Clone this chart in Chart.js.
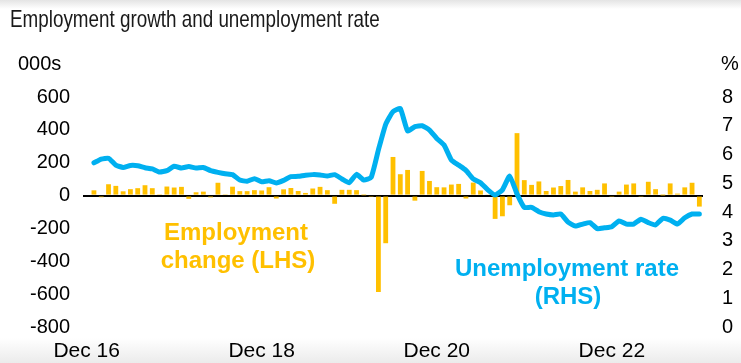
<!DOCTYPE html>
<html>
<head>
<meta charset="utf-8">
<script src="https://cdn.jsdelivr.net/npm/chart.js@4"></script>
<style>
  html, body { margin: 0; padding: 0; }
  body {
    width: 741px;
    height: 363px;
    overflow: hidden;
    background: linear-gradient(to bottom, #e4e4e4 0px, #ffffff 9px, #ffffff 338px, #ebebeb 363px);
  }
</style>
</head>
<body>
<canvas id="chart" width="741" height="363"></canvas>
<script>
const TITLE = "Employment growth and unemployment rate";
const LHS_UNIT = "000s";
const RHS_UNIT = "%";
const LHS_NOTE = ["Employment", "change (LHS)"];
const RHS_NOTE = ["Unemployment rate", "(RHS)"];

const MONTHS = [
  "Dec 16",
  "Jan 17", "Feb 17", "Mar 17", "Apr 17", "May 17", "Jun 17", "Jul 17", "Aug 17", "Sep 17", "Oct 17", "Nov 17", "Dec 17",
  "Jan 18", "Feb 18", "Mar 18", "Apr 18", "May 18", "Jun 18", "Jul 18", "Aug 18", "Sep 18", "Oct 18", "Nov 18", "Dec 18",
  "Jan 19", "Feb 19", "Mar 19", "Apr 19", "May 19", "Jun 19", "Jul 19", "Aug 19", "Sep 19", "Oct 19", "Nov 19", "Dec 19",
  "Jan 20", "Feb 20", "Mar 20", "Apr 20", "May 20", "Jun 20", "Jul 20", "Aug 20", "Sep 20", "Oct 20", "Nov 20", "Dec 20",
  "Jan 21", "Feb 21", "Mar 21", "Apr 21", "May 21", "Jun 21", "Jul 21", "Aug 21", "Sep 21", "Oct 21", "Nov 21", "Dec 21",
  "Jan 22", "Feb 22", "Mar 22", "Apr 22", "May 22", "Jun 22", "Jul 22", "Aug 22", "Sep 22", "Oct 22", "Nov 22", "Dec 22",
  "Jan 23", "Feb 23", "Mar 23", "Apr 23", "May 23", "Jun 23", "Jul 23", "Aug 23", "Sep 23", "Oct 23", "Nov 23", "Dec 23",
];
const TICK_LABELS = ["Dec 16", "Dec 18", "Dec 20", "Dec 22"];

// monthly change in employment, thousands
const EMPLOYMENT_CHANGE = [
  null,
  32, -10, 69, 59, 26, 39, 45, 63, 45, 8, 55, 49,
  53, -20, 20, 24, -11, 78, 8, 54, 27, 27, 33, 31,
  51, -18, 38, 46, 28, 16, 43, 53, 33, -50, 35, 35,
  33, 2, -4, -587, -290, 235, 130, 156, -31, 150, 89, 51,
  50, 67, 71, -18, 79, 31, 5, -142, -126, -59, 380, 94,
  65, 86, 28, 49, 58, 95, 24, 50, 28, 35, 74, -8,
  24, 67, 74, -8, 84, 39, 1, 74, 12, 50, 78, -67,
];

// unemployment rate, per cent
const UNEMPLOYMENT_RATE = [
  null,
  5.71, 5.84, 5.87, 5.63, 5.55, 5.62, 5.61, 5.54, 5.50, 5.39, 5.44, 5.59,
  5.53, 5.58, 5.53, 5.55, 5.44, 5.38, 5.33, 5.30, 5.11, 5.07, 5.16, 5.05,
  5.09, 5.01, 5.10, 5.23, 5.24, 5.28, 5.30, 5.29, 5.25, 5.30, 5.15, 5.02,
  5.31, 5.11, 5.20, 6.16, 7.05, 7.49, 7.60, 6.82, 6.97, 7.00, 6.85, 6.56,
  6.33, 5.81, 5.63, 5.45, 5.15, 5.02, 4.77, 4.59, 4.77, 5.25, 4.63, 4.16,
  4.16, 4.01, 3.93, 3.90, 3.93, 3.65, 3.51, 3.58, 3.63, 3.42, 3.45, 3.49,
  3.69, 3.58, 3.58, 3.75, 3.63, 3.55, 3.78, 3.72, 3.58, 3.80, 3.93, 3.93,
];

const LHS_RANGE = [-800, 600, 200];
const RHS_RANGE = [0, 8, 1];

const AMBER = "#FFC000";
const CYAN = "#00B0F0";
const FONT = '"Liberation Sans", Arial, sans-serif';

const textPlugin = {
  id: "texts",
  afterDraw(chart) {
    const ctx = chart.ctx;
    ctx.save();
    ctx.textBaseline = "alphabetic";

    // title is set in a narrow face
    ctx.save();
    ctx.fillStyle = "#1a1a1a";
    ctx.font = "24px " + FONT;
    ctx.translate(10, 27);
    ctx.scale(0.785, 1);
    ctx.textAlign = "left";
    ctx.fillText(TITLE, 0, 0);
    ctx.restore();

    ctx.fillStyle = "#000";
    ctx.font = "20px " + FONT;
    ctx.textAlign = "left";
    ctx.fillText(LHS_UNIT, 18, 70);
    ctx.fillText(RHS_UNIT, 721, 70);

    ctx.font = "bold 24px " + FONT;
    ctx.textAlign = "center";
    ctx.fillStyle = AMBER;
    ctx.fillText(LHS_NOTE[0], 236, 240);
    ctx.fillText(LHS_NOTE[1], 238, 268);
    ctx.fillStyle = CYAN;
    ctx.fillText(RHS_NOTE[0], 567, 276);
    ctx.fillText(RHS_NOTE[1], 568, 304);
    ctx.restore();
  },
};

new Chart(document.getElementById("chart"), {
  type: "bar",
  data: {
    labels: MONTHS,
    datasets: [
      {
        type: "line",
        label: "Unemployment rate (RHS)",
        data: UNEMPLOYMENT_RATE,
        yAxisID: "y1",
        borderColor: CYAN,
        borderWidth: 5,
        pointRadius: 0,
        tension: 0.15,
        borderJoinStyle: "round",
        borderCapStyle: "round",
        order: 0,
      },
      {
        label: "Employment change (LHS)",
        data: EMPLOYMENT_CHANGE,
        yAxisID: "y",
        backgroundColor: AMBER,
        categoryPercentage: 1,
        barPercentage: 0.66,
        order: 1,
      },
    ],
  },
  options: {
    responsive: false,
    animation: false,
    events: [],
    layout: { padding: { top: 97, left: 0, right: 0, bottom: 0 } },
    plugins: {
      legend: { display: false },
      tooltip: { enabled: false },
    },
    scales: {
      x: {
        grid: { display: false, drawTicks: false },
        border: { display: false },
        afterFit: (s) => { s.height = 36; },
        ticks: {
          autoSkip: false,
          maxRotation: 0,
          minRotation: 0,
          padding: 12,
          color: "#000",
          font: { family: FONT, size: 21 },
          callback: (v, i) => (TICK_LABELS.includes(MONTHS[i]) ? MONTHS[i] : ""),
        },
      },
      y: {
        position: "left",
        min: LHS_RANGE[0],
        max: LHS_RANGE[1],
        afterFit: (s) => { s.width = 83; },
        border: { display: false },
        grid: {
          drawTicks: false,
          lineWidth: 2,
          color: (c) => (c.tick && c.tick.value === 0 ? "#000" : "rgba(0,0,0,0)"),
        },
        ticks: {
          stepSize: LHS_RANGE[2],
          padding: 13,
          color: "#000",
          font: { family: FONT, size: 20 },
        },
      },
      y1: {
        position: "right",
        min: RHS_RANGE[0],
        max: RHS_RANGE[1],
        afterFit: (s) => { s.width = 38; },
        border: { display: false },
        grid: { display: false, drawTicks: false },
        ticks: {
          stepSize: RHS_RANGE[2],
          padding: 19,
          color: "#000",
          font: { family: FONT, size: 20 },
        },
      },
    },
  },
  plugins: [textPlugin],
});
</script>
</body>
</html>
